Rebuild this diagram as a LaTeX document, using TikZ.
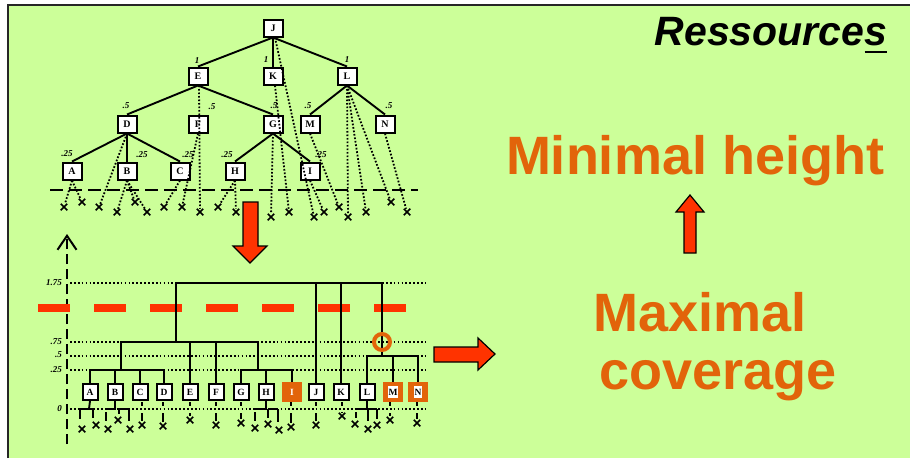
\documentclass[tikz,border=0pt]{standalone}
\usepackage{fontspec}
\setmainfont{Liberation Serif}
\newfontfamily\arialf{Liberation Sans}
\usetikzlibrary{shapes.misc,arrows.meta}
\definecolor{bg}{RGB}{204,255,153}
\definecolor{org}{RGB}{226,100,10}
\definecolor{redd}{RGB}{255,51,0}
\begin{document}
\begin{tikzpicture}[x=1pt,y=-1pt,
  tbox/.style={draw,line width=2pt,fill=white,minimum width=19pt,minimum height=17pt,inner sep=0pt,font=\fontsize{10}{10}\selectfont\bfseries},
  bbox/.style={draw,line width=2pt,fill=white,minimum width=15pt,minimum height=16pt,inner sep=0pt,font=\fontsize{9.5}{9.5}\selectfont\bfseries},
  obox/.style={fill=org,minimum width=20pt,minimum height=20pt,inner sep=0pt,font=\fontsize{9.5}{9.5}\selectfont\bfseries},
  lbl/.style={font=\fontsize{9}{9}\selectfont\bfseries\itshape,inner sep=0pt},
  edge/.style={line width=1.9pt},
  dotl/.style={line width=1.8pt,dash pattern=on 1.7pt off 1.8pt},
  lvl/.style={line width=1.8pt,dash pattern=on 1.7pt off 2.2pt},
  xm/.style={cross out,draw,line width=1.5pt,minimum size=5pt,inner sep=0pt},
  big/.style={font=\arialf\bfseries\fontsize{54}{54}\selectfont,text=org,inner sep=0pt},
  arr/.style={fill=redd,draw=black,line width=1.2pt}
]
\useasboundingbox (0,0) rectangle (910,458);
\fill[white] (0,0) rectangle (910,458);
\fill[bg] (8,5) rectangle (910,458);
\draw[line width=2pt,black!85] (8,458) -- (8,5) -- (910,5);

% ---------------- top tree ----------------
\node[tbox] (J) at (273,28) {J};
\node[tbox] (E) at (198,76) {E};
\node[tbox] (K) at (273,76) {K};
\node[tbox] (L) at (347,76) {L};
\node[tbox] (D) at (127,124) {D};
\node[tbox] (F) at (198,124) {F};
\node[tbox] (G) at (273,124) {G};
\node[tbox] (M) at (310,124) {M};
\node[tbox] (N) at (385,124) {N};
\node[tbox] (A) at (72,171) {A};
\node[tbox] (B) at (127,171) {B};
\node[tbox] (C) at (180,171) {C};
\node[tbox] (H) at (235,171) {H};
\node[tbox] (I) at (310,171) {I};

\draw[edge] (J.south) -- (E.north);
\draw[edge] (J.south) -- (K.north);
\draw[edge] (J.south) -- (L.north);
\draw[edge] (E.south) -- (D.north);
\draw[edge] (E.south) -- (G.north);
\draw[edge] (L.south) -- (M.north);
\draw[edge] (L.south) -- (N.north);
\draw[edge] (D.south) -- (A.north);
\draw[edge] (D.south) -- (B.north);
\draw[edge] (D.south) -- (C.north);
\draw[edge] (G.south) -- (H.north);
\draw[edge] (G.south) -- (I.north);

\node[lbl] (l1) at (197,61) {1};
\node[lbl] (l2) at (266,60) {1};
\node[lbl] (l3) at (347,60) {1};
\node[lbl] (l4) at (126,106) {.5};
\node[lbl] (l5) at (212,107) {.5};
\node[lbl] (l6) at (274,106) {.5};
\node[lbl] (l7) at (308,106) {.5};
\node[lbl] (l8) at (389,106) {.5};
\node[lbl] (l9) at (67,154) {.25};
\node[lbl] (l10) at (142,155) {.25};
\node[lbl] (l11) at (188,155) {.25};
\node[lbl] (l12) at (227,155) {.25};
\node[lbl] (l13) at (321,155) {.25};

\coordinate (dl1) at (50,190);
\coordinate (dl2) at (418,190);
\draw[line width=2.2pt,dash pattern=on 13pt off 6pt] (dl1) -- (dl2);

\node[xm] (t1) at (64,207) {};
\node[xm] (t2) at (82,202) {};
\node[xm] (t3) at (99,207) {};
\node[xm] (t4) at (117,212) {};
\node[xm] (t5) at (135,202) {};
\node[xm] (t6) at (147,212) {};
\node[xm] (t7) at (164,207) {};
\node[xm] (t8) at (182,207) {};
\node[xm] (t9) at (200,212) {};
\node[xm] (t10) at (218,207) {};
\node[xm] (t11) at (236,212) {};
\node[xm] (t12) at (271,217) {};
\node[xm] (t13) at (289,212) {};
\node[xm] (t14) at (314,217) {};
\node[xm] (t15) at (324,212) {};
\node[xm] (t16) at (339,207) {};
\node[xm] (t17) at (348,217) {};
\node[xm] (t18) at (366,212) {};
\node[xm] (t19) at (391,202) {};
\node[xm] (t20) at (407,212) {};

\draw[dotl] (A.south) -- (t1);
\draw[dotl] (A.south) -- (t2);
\draw[dotl] (D.south) -- (t3);
\draw[dotl] (B.south) -- (t4);
\draw[dotl] (B.south) -- (t5);
\draw[dotl] (B.south) -- (t6);
\draw[dotl] (C.south) -- (t7);
\draw[dotl] (F.south) -- (t8);
\draw[dotl] ([xshift=1pt]E.south) -- (t9);
\draw[dotl] (H.south) -- (t10);
\draw[dotl] (H.south) -- (t11);
\draw[dotl] (G.south) -- (t12);
\draw[dotl] ([xshift=2pt]K.south) -- (t13);
\draw[dotl] ([xshift=2pt]J.south) -- (t14);
\draw[dotl] (I.south) -- (t15);
\draw[dotl] (M.south) -- (t16);
\draw[dotl] (L.south) -- (t17);
\draw[dotl] (L.south) -- (t18);
\draw[dotl] (L.south) -- (t19);
\draw[dotl] (N.south) -- (t20);

% red down arrow
\draw[arr] (243,202) -- (258,202) -- (258,246) -- (267,246) -- (250,263) -- (233,246) -- (243,246) -- cycle;

% ---------------- bottom dendrogram ----------------
\coordinate (ax0) at (67,444);
\coordinate (ax1) at (67,234);
\draw[line width=2.5pt,dash pattern=on 10pt off 5pt,-{Straight Barb[length=14pt,width=19pt,line width=2pt]}] (ax0) -- (ax1);

\foreach \yy in {283,342,356,370,409} {\draw[lvl] (70,\yy) -- (425,\yy);}
\node[lbl,anchor=east] (v1) at (62,283) {1.75};
\node[lbl,anchor=east] (v2) at (62,342) {.75};
\node[lbl,anchor=east] (v3) at (62,355) {.5};
\node[lbl,anchor=east] (v4) at (62,370) {.25};
\node[lbl,anchor=east] (v5) at (62,409) {0};

\coordinate (rc1) at (38,308);
\coordinate (rc2) at (407,308);
\draw[redd,line width=7.5pt,dash pattern=on 32pt off 24pt] (rc1) -- (rc2);

\node[bbox] (bA) at (90,392) {A};
\node[bbox] (bB) at (115,392) {B};
\node[bbox] (bC) at (140,392) {C};
\node[bbox] (bD) at (164,392) {D};
\node[bbox] (bE) at (190,392) {E};
\node[bbox] (bF) at (216,392) {F};
\node[bbox] (bG) at (241,392) {G};
\node[bbox] (bH) at (266,392) {H};
\node[obox] (bI) at (292,392) {\textcolor{white}{I}};
\node[bbox] (bJ) at (316,392) {J};
\node[bbox] (bK) at (341,392) {K};
\node[bbox] (bL) at (367,392) {L};
\node[obox] (bM) at (393,392) {\colorbox{white}{\hspace{-2.5pt}M\hspace{-2.5pt}}};
\node[obox] (bN) at (418,392) {\colorbox{white}{\hspace{-2.5pt}N\hspace{-2.5pt}}};

\draw[edge] (bA.north) -- (90,370) -- (164,370) -- (bD.north);
\draw[edge] (bB.north) -- (115,370);
\draw[edge] (bC.north) -- (140,370);
\draw[edge] (121,370) -- (121,342) -- (258,342) -- (258,370);
\draw[edge] (bE.north) -- (190,342);
\draw[edge] (bF.north) -- (216,342);
\draw[edge] (bG.north) -- (241,370) -- (292,370) -- (bI.north);
\draw[edge] (bH.north) -- (266,370);
\draw[edge] (176,342) -- (176,283) -- (382,283) -- (382,356);
\draw[edge] (bJ.north) -- (316,283);
\draw[edge] (bK.north) -- (341,283);
\draw[edge] (bL.north) -- (367,356) -- (418,356) -- (bN.north);
\draw[edge] (bM.north) -- (393,356);

\coordinate (ring) at (382,342);
\draw[org,line width=4pt] (ring) circle (8);

\node[xm] (b1) at (82,429) {};
\node[xm] (b2) at (96,425) {};
\node[xm] (b3) at (108,429) {};
\node[xm] (b4) at (118,420) {};
\node[xm] (b5) at (130,429) {};
\node[xm] (b6) at (142,425) {};
\node[xm] (b7) at (163,426) {};
\node[xm] (b8) at (190,420) {};
\node[xm] (b9) at (216,425) {};
\node[xm] (b10) at (241,423) {};
\node[xm] (b11) at (255,428) {};
\node[xm] (b12) at (268,424) {};
\node[xm] (b13) at (279,430) {};
\node[xm] (b14) at (291,427) {};
\node[xm] (b15) at (316,425) {};
\node[xm] (b16) at (342,416) {};
\node[xm] (b17) at (355,424) {};
\node[xm] (b18) at (368,429) {};
\node[xm] (b19) at (377,425) {};
\node[xm] (b20) at (390,420) {};
\node[xm] (b21) at (417,423) {};

\begin{scope}[edge]
\draw (bA.south) -- (89,409);
\draw (80,409) -- (93,409);
\draw (80,409) -- (80,419);
\draw (93,409) -- (93,418);
\draw (bB.south) -- (115,409) -- (106,409);
\draw (106,412) -- (106,421);
\draw (119,409) -- (129,409);
\draw (119,409) -- (119,414);
\draw (129,409) -- (129,421);
\draw (bH.south) -- (266,409) -- (255,409);
\draw (255,412) -- (255,421);
\draw (268,409) -- (278,409);
\draw (268,409) -- (268,418);
\draw (278,409) -- (278,422);
\draw (bL.south) -- (367,409) -- (356,409);
\draw (356,412) -- (356,418);
\draw (368,409) -- (377,409);
\draw (368,409) -- (368,421);
\draw (377,409) -- (377,419);
\foreach \xx/\yy in {142/425,163/426,190/420,216/425,241/423,291/427,316/425,342/416,390/420,417/423} {
  \draw (\xx,402) -- (\xx,406);
  \draw (\xx,413) -- (\xx,\yy-4);
}
\end{scope}

\draw[arr] (434,347) -- (478,347) -- (478,338) -- (495,354) -- (478,370) -- (478,362) -- (434,362) -- cycle;

% ---------------- right texts ----------------
\node[anchor=base,font=\arialf\bfseries\itshape\fontsize{41}{41}\selectfont,inner sep=0pt] (res) at (771,45) {Ressources\llap{\rule[-8pt]{0.55em}{2.5pt}}};
\node[big,anchor=base] (mh) at (695,174) {Minimal height};
\draw[arr] (684,253) -- (684,212) -- (676,212) -- (690,195) -- (704,212) -- (696,212) -- (696,253) -- cycle;
\node[big,anchor=base] (mx) at (700,331) {Maximal};
\node[big,anchor=base] (cv) at (718,389) {coverage};
\end{tikzpicture}
\end{document}
